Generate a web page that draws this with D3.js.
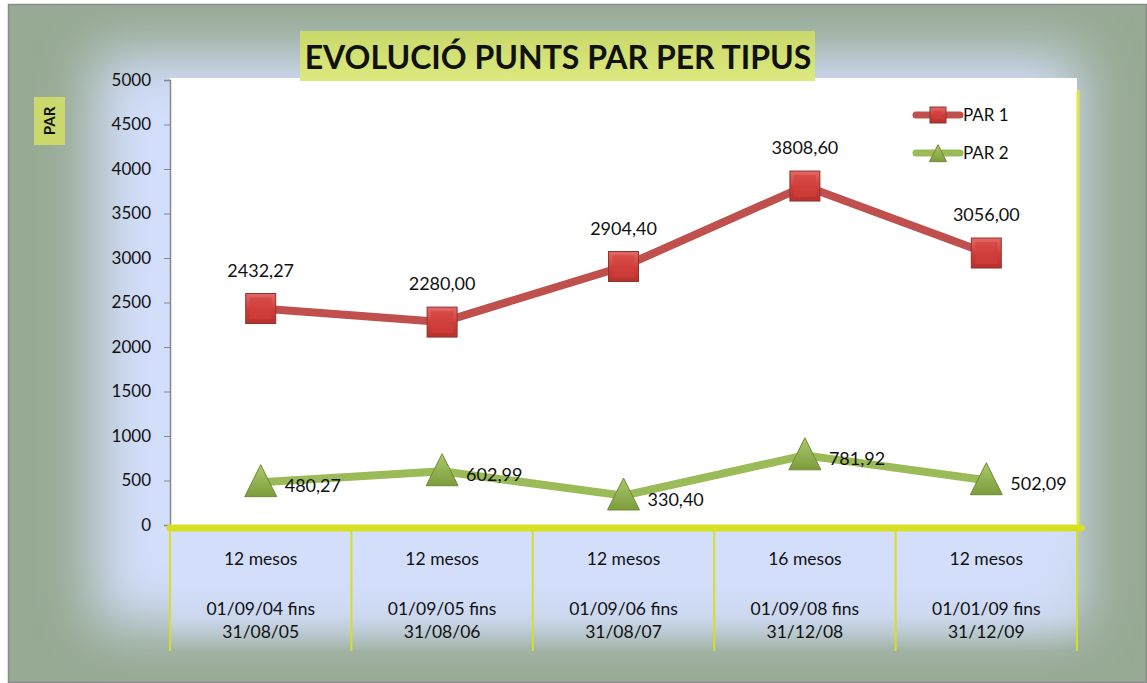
<!DOCTYPE html>
<html>
<head>
<meta charset="utf-8">
<script src="https://cdn.jsdelivr.net/npm/d3@7"></script>
<style>
  body { margin: 0; background: #fff; }
  text { font-family: Lato, "Open Sans", sans-serif; fill: #111; }
</style>
</head>
<body>
<div id="chart"></div>
<script>
// chart data
const periods = ["12 mesos", "12 mesos", "12 mesos", "16 mesos", "12 mesos"];
const rangesFrom = ["01/09/04 fins", "01/09/05 fins", "01/09/06 fins", "01/09/08 fins", "01/01/09 fins"];
const rangesTo = ["31/08/05", "31/08/06", "31/08/07", "31/12/08", "31/12/09"];
const par1 = [2432.27, 2280.00, 2904.40, 3808.60, 3056.00];
const par2 = [480.27, 602.99, 330.40, 781.92, 502.09];
const yTicks = [0, 500, 1000, 1500, 2000, 2500, 3000, 3500, 4000, 4500, 5000];

const W = 1147, H = 683;
const margin = { top: 80, right: 70, bottom: 158, left: 170 };
const width = W - margin.left - margin.right;
const height = H - margin.top - margin.bottom;

const svg = d3.select("#chart").append("svg")
    .attr("width", W)
    .attr("height", H);

const defs = svg.append("defs");

// background blur for the frame gradient
defs.append("filter").attr("id", "soft")
    .attr("x", "-20%").attr("y", "-20%").attr("width", "140%").attr("height", "140%")
    .append("feGaussianBlur").attr("stdDeviation", 28);

const redGrad = defs.append("linearGradient").attr("id", "redGrad")
    .attr("x1", 0).attr("y1", 0).attr("x2", 0).attr("y2", 1);
redGrad.append("stop").attr("offset", "0%").attr("stop-color", "#e26a66");
redGrad.append("stop").attr("offset", "50%").attr("stop-color", "#cf3f3b");
redGrad.append("stop").attr("offset", "100%").attr("stop-color", "#b8302c");

const greenGrad = defs.append("linearGradient").attr("id", "greenGrad")
    .attr("x1", 0).attr("y1", 0).attr("x2", 0).attr("y2", 1);
greenGrad.append("stop").attr("offset", "0%").attr("stop-color", "#a9c86a");
greenGrad.append("stop").attr("offset", "100%").attr("stop-color", "#7d9c3c");

const titleGrad = defs.append("linearGradient").attr("id", "titleGrad")
    .attr("x1", 0).attr("y1", 0).attr("x2", 0).attr("y2", 1);
titleGrad.append("stop").attr("offset", "0%").attr("stop-color", "#c9d86a");
titleGrad.append("stop").attr("offset", "100%").attr("stop-color", "#dde97e");

const bandGrad = defs.append("linearGradient").attr("id", "bandGrad")
    .attr("x1", 0).attr("y1", 0).attr("x2", 0).attr("y2", 1);
bandGrad.append("stop").attr("offset", "0%").attr("stop-color", "#d3defb").attr("stop-opacity", 0.9);
bandGrad.append("stop").attr("offset", "70%").attr("stop-color", "#d3defb").attr("stop-opacity", 0.7);
bandGrad.append("stop").attr("offset", "100%").attr("stop-color", "#d3defb").attr("stop-opacity", 0);

// outer frame
svg.append("rect")
    .attr("x", 8).attr("y", 4).attr("width", W - 8).attr("height", H - 4)
    .attr("fill", "#97aa93");
svg.append("rect")
    .attr("x", 95).attr("y", 55).attr("width", 985).attr("height", 570)
    .attr("fill", "#d3defb")
    .attr("filter", "url(#soft)");
svg.append("rect")
    .attr("x", 8.5).attr("y", 4.5).attr("width", W - 9).attr("height", H - 5)
    .attr("fill", "none").attr("stroke", "#8a8a8a").attr("stroke-width", 1.5);

// category band area below the plot
svg.append("rect")
    .attr("x", margin.left).attr("y", margin.top + height)
    .attr("width", width).attr("height", 126)
    .attr("fill", "url(#bandGrad)");

const g = svg.append("g")
    .attr("transform", `translate(${margin.left},${margin.top})`);

// scales
const x = d3.scaleBand().domain(d3.range(periods.length)).range([0, width]);
const y = d3.scaleLinear().domain([0, 5000]).range([height, 0]);
const cx = i => x(i) + x.bandwidth() / 2;

// plot area
g.append("rect")
    .attr("x", 0).attr("y", -2).attr("width", width).attr("height", height + 2)
    .attr("fill", "#fff");
g.append("line")
    .attr("x1", width + 1).attr("x2", width + 1)
    .attr("y1", 10).attr("y2", height)
    .attr("stroke", "#dfe84a").attr("stroke-width", 3);

// y axis
const yAxis = g.append("g")
    .call(d3.axisLeft(y).tickValues(yTicks).tickFormat(d3.format("d")).tickSize(6).tickPadding(13));
yAxis.select(".domain").attr("stroke", "#888").attr("stroke-width", 1.5);
yAxis.selectAll(".tick line").attr("stroke", "#888");
yAxis.selectAll(".tick text")
    .style("font-family", "Lato, 'Open Sans', sans-serif")
    .style("font-size", "17px").attr("fill", "#111");

// category dividers
g.selectAll(".divider")
    .data(d3.range(periods.length + 1))
    .join("line")
    .attr("class", "divider")
    .attr("x1", i => i < periods.length ? x(i) : width)
    .attr("x2", i => i < periods.length ? x(i) : width)
    .attr("y1", height + 4).attr("y2", height + 126)
    .attr("stroke", "#d6e020").attr("stroke-width", 2);

// x axis line
g.append("line")
    .attr("x1", 0).attr("x2", width + 4)
    .attr("y1", height + 3).attr("y2", height + 3)
    .attr("stroke", "#d6e020").attr("stroke-width", 7)
    .attr("stroke-linecap", "round");

// category labels
const cat = g.selectAll(".cat")
    .data(d3.range(periods.length))
    .join("g")
    .attr("class", "cat")
    .attr("transform", i => `translate(${cx(i)},${height})`);
cat.append("text").attr("y", 40).attr("text-anchor", "middle")
    .style("font-size", "17.5px").text(i => periods[i]);
cat.append("text").attr("y", 90).attr("text-anchor", "middle")
    .style("font-size", "17.5px").text(i => rangesFrom[i]);
cat.append("text").attr("y", 113).attr("text-anchor", "middle")
    .style("font-size", "17.5px").text(i => rangesTo[i]);

// lines
const line = d3.line().x((d, i) => cx(i)).y(d => y(d));
g.append("path").datum(par1).attr("d", line)
    .attr("fill", "none").attr("stroke", "#c0504d").attr("stroke-width", 8)
    .attr("stroke-linejoin", "round");
g.append("path").datum(par2).attr("d", line)
    .attr("fill", "none").attr("stroke", "#9bbb59").attr("stroke-width", 8)
    .attr("stroke-linejoin", "round");

// markers
function square(sel, s) {
    sel.append("rect")
        .attr("x", -s / 2).attr("y", -s / 2).attr("width", s).attr("height", s)
        .attr("fill", "url(#redGrad)").attr("stroke", "#8c3431").attr("stroke-width", 1);
    sel.append("rect")
        .attr("x", -s / 2 + 4).attr("y", -s / 2 + 4).attr("width", s - 8).attr("height", s - 8)
        .attr("fill", "#d2403c").attr("opacity", 0.6);
}
function triangle(sel, s) {
    sel.append("path")
        .attr("d", `M0,${-s * 0.55}L${s / 2},${s * 0.45}L${-s / 2},${s * 0.45}Z`)
        .attr("fill", "url(#greenGrad)").attr("stroke", "#6f8a35").attr("stroke-width", 1);
}

g.selectAll(".m1").data(par1).join("g")
    .attr("class", "m1")
    .attr("transform", (d, i) => `translate(${cx(i)},${y(d)})`)
    .each(function () { square(d3.select(this), 30); });
g.selectAll(".m2").data(par2).join("g")
    .attr("class", "m2")
    .attr("transform", (d, i) => `translate(${cx(i)},${y(d)})`)
    .each(function () { triangle(d3.select(this), 32); });

// data labels
const fmt = v => v.toFixed(2).replace(".", ",");
g.selectAll(".l1").data(par1).join("text")
    .attr("class", "l1")
    .attr("x", (d, i) => cx(i)).attr("y", d => y(d) - 32)
    .attr("text-anchor", "middle")
    .style("font-size", "18px").text(fmt);
g.selectAll(".l2").data(par2).join("text")
    .attr("class", "l2")
    .attr("x", (d, i) => cx(i) + 24).attr("y", d => y(d) + 10)
    .style("font-size", "18px").text(fmt);

// legend
const legend = g.append("g").attr("transform", `translate(${width - 161},35)`);
const l1 = legend.append("g");
l1.append("line").attr("x1", 0).attr("x2", 44).attr("stroke", "#c0504d")
    .attr("stroke-width", 7).attr("stroke-linecap", "round");
l1.append("g").attr("transform", "translate(22,0)").call(s => square(s, 16));
l1.append("text").attr("x", 47).attr("y", 6).style("font-size", "17px").text("PAR 1");
const l2 = legend.append("g").attr("transform", "translate(0,38)");
l2.append("line").attr("x1", 0).attr("x2", 44).attr("stroke", "#9bbb59")
    .attr("stroke-width", 7).attr("stroke-linecap", "round");
l2.append("g").attr("transform", "translate(22,1)").call(s => triangle(s, 17));
l2.append("text").attr("x", 47).attr("y", 6).style("font-size", "17px").text("PAR 2");

// title
svg.append("rect")
    .attr("x", 300).attr("y", 31).attr("width", 515).attr("height", 50)
    .attr("fill", "url(#titleGrad)");
svg.append("text")
    .attr("x", 558).attr("y", 69).attr("text-anchor", "middle")
    .style("font-size", "32px").style("font-weight", "bold")
    .text("EVOLUCIÓ PUNTS PAR PER TIPUS");

// y axis title
svg.append("rect")
    .attr("x", 34).attr("y", 97).attr("width", 31).attr("height", 48)
    .attr("fill", "#cad86c");
svg.append("text")
    .attr("transform", "translate(55,121) rotate(-90)")
    .attr("text-anchor", "middle")
    .style("font-size", "15px").style("font-weight", "bold")
    .text("PAR");
</script>
</body>
</html>
